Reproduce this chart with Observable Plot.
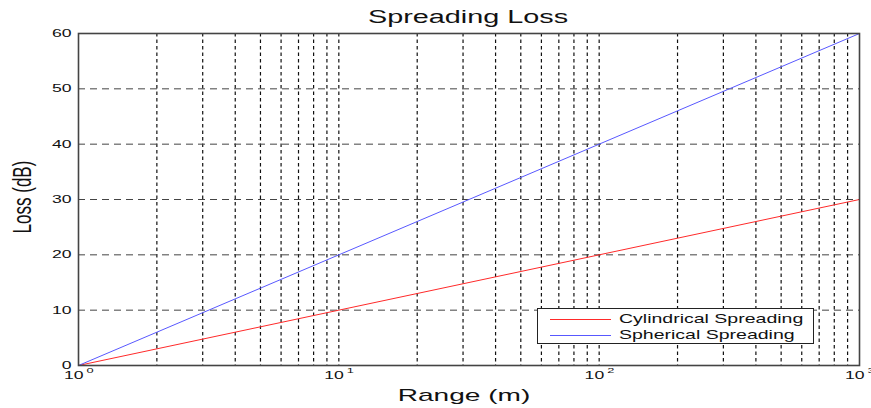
<!DOCTYPE html>
<html>
<head>
<meta charset="utf-8">
<script src="https://cdn.jsdelivr.net/npm/d3@7"></script>
<script src="https://cdn.jsdelivr.net/npm/@observablehq/plot@0.6"></script>
<style>
  html, body { margin: 0; padding: 0; background: #fff; }
  #wrap { position: relative; width: 871px; height: 408px; font-family: "Liberation Sans", Arial, sans-serif; color: #111; overflow: hidden; }
  .title { position: absolute; left: 468px; top: 17px; transform: translate(-50%, -50%) scaleX(1.6); font-size: 18px; white-space: nowrap; }
  .xlabel { position: absolute; left: 464px; top: 396px; transform: translate(-50%, -50%) scaleX(1.65); font-size: 17px; white-space: nowrap; }
  .ylabel { position: absolute; left: 23px; top: 197px; transform: translate(-50%, -50%) scaleX(1.5) rotate(-90deg); font-size: 17px; white-space: nowrap; }
  .legend { position: absolute; left: 537px; top: 308px; width: 277px; height: 36px; background: #fff; border: 1px solid #222; box-sizing: border-box; }
  .legend .row { position: absolute; left: 0; height: 16px; width: 100%; }
  .legend .sw { position: absolute; left: 12px; top: 8px; width: 61px; height: 1px; }
  .legend .lbl { position: absolute; left: 81px; top: 0; font-size: 13px; line-height: 16px; white-space: nowrap; transform-origin: 0 50%; transform: scaleX(1.5); }
</style>
</head>
<body>
<div id="wrap"></div>
<script>
// Data
const range = [1, 10, 100, 1000];
const cylindrical = [0, 10, 20, 30];
const spherical = [0, 20, 40, 60];
const seriesNames = ["Cylindrical Spreading", "Spherical Spreading"];
const seriesColors = ["#ff2a2a", "#5858ff"];

// Tick / grid values
const yTicks = [0, 10, 20, 30, 40, 50, 60];
const yGrid = [10, 20, 30, 40, 50];
const xMajor = [1, 10, 100, 1000];
const xExp = ["0", "1", "2", "3"];
const xGrid = [2, 3, 4, 5, 6, 7, 8, 9, 10, 20, 30, 40, 50, 60, 70, 80, 90, 100, 200, 300, 400, 500, 600, 700, 800, 900];

const rows = [];
range.forEach((r, i) => {
  rows.push({range: r, loss: cylindrical[i], series: seriesNames[0]});
  rows.push({range: r, loss: spherical[i], series: seriesNames[1]});
});

const chart = Plot.plot({
  width: 871,
  height: 408,
  marginLeft: 78,
  marginRight: 12,
  marginTop: 33,
  marginBottom: 43,
  style: {background: "#fff", fontFamily: "Liberation Sans, Arial, sans-serif", color: "#111"},
  x: {type: "log", domain: [1, 1000]},
  y: {domain: [0, 60]},
  color: {domain: seriesNames, range: seriesColors},
  marks: [
    Plot.ruleX(xGrid, {x: d => d, stroke: "#111", strokeWidth: 1.2, strokeDasharray: "3.5,3"}),
    Plot.ruleY(yGrid, {y: d => d, stroke: "#444", strokeWidth: 1, strokeDasharray: "7,5"}),
    Plot.line(rows, {x: "range", y: "loss", z: "series", stroke: "series", strokeWidth: 1}),
    Plot.frame({stroke: "#444", strokeWidth: 1.6}),
    Plot.axisY(yTicks, {tickSize: 0, tickPadding: 7, fontSize: 11, label: null, tickFormat: d => String(d)}),
    Plot.axisX({ticks: [], tickSize: 0, label: null}),
    Plot.text(xMajor, {x: d => d, frameAnchor: "bottom", text: () => "10", dy: 13, dx: 5, textAnchor: "end", fontSize: 11}),
    Plot.text(xMajor, {x: d => d, frameAnchor: "bottom", text: (d, i) => xExp[i], dy: 7, dx: 8, textAnchor: "start", fontSize: 8})
  ]
});

// Horizontally stretch all SVG texts around their anchor (reference image is stretched)
chart.querySelectorAll("text").forEach(t => {
  const tr = t.getAttribute("transform");
  if (tr) {
    t.setAttribute("transform", tr + " scale(1.6,1)");
  } else {
    const x = +(t.getAttribute("x") || 0), y = t.getAttribute("y");
    t.removeAttribute("x");
    t.setAttribute("transform", `translate(${x},0) scale(1.6,1)`);
  }
});

const wrap = document.getElementById("wrap");
wrap.appendChild(chart);

const add = (cls, txt) => { const d = document.createElement("div"); d.className = cls; d.textContent = txt; wrap.appendChild(d); return d; };
add("title", "Spreading Loss");
add("xlabel", "Range (m)");
add("ylabel", "Loss (dB)");

const leg = document.createElement("div");
leg.className = "legend";
seriesNames.forEach((n, i) => {
  const row = document.createElement("div");
  row.className = "row";
  row.style.top = (i === 0 ? 2 : 18) + "px";
  const sw = document.createElement("div");
  sw.className = "sw";
  sw.style.background = seriesColors[i];
  const lb = document.createElement("div");
  lb.className = "lbl";
  lb.textContent = n;
  row.appendChild(sw); row.appendChild(lb);
  leg.appendChild(row);
});
wrap.appendChild(leg);
</script>
</body>
</html>
